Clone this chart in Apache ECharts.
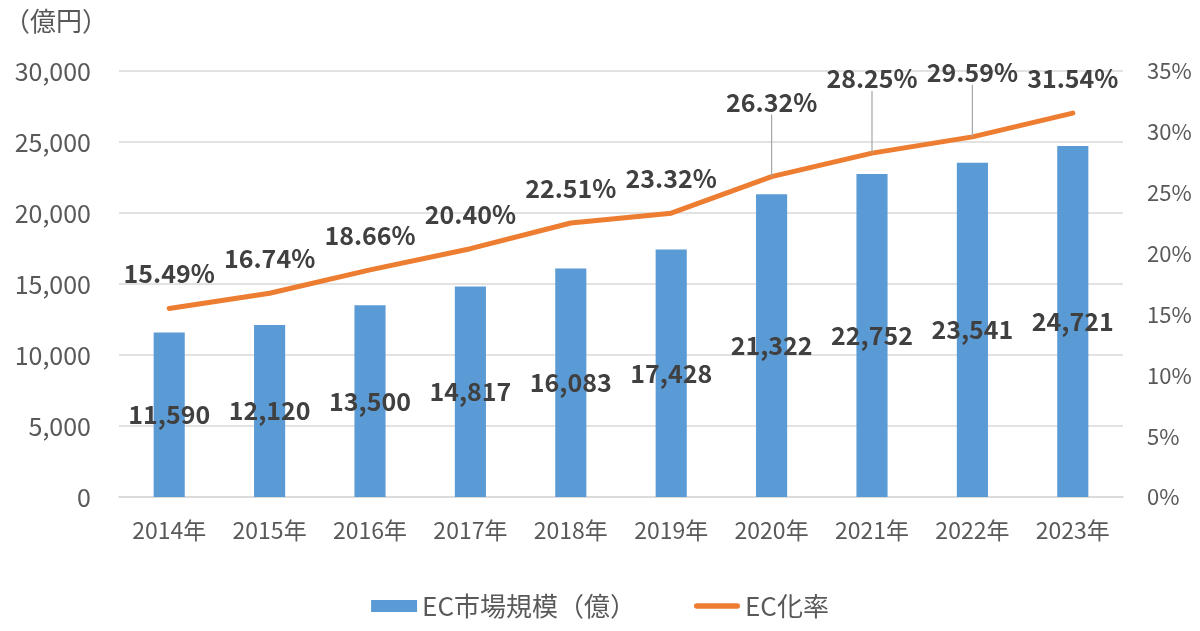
<!DOCTYPE html>
<html>
<head>
<meta charset="utf-8">
<script src="https://cdn.jsdelivr.net/npm/echarts@6/dist/echarts.min.js"></script>
<style>
  html, body { margin: 0; padding: 0; background: #fff; }
  #chart { width: 1200px; height: 631px; }
</style>
</head>
<body>
<div id="chart"></div>
<script>
const years = ['2014年', '2015年', '2016年', '2017年', '2018年', '2019年', '2020年', '2021年', '2022年', '2023年'];
const marketSize = [11590, 12120, 13500, 14817, 16083, 17428, 21322, 22752, 23541, 24721];
const ecRate = [15.49, 16.74, 18.66, 20.40, 22.51, 23.32, 26.32, 28.25, 29.59, 31.54];

const font = '"Noto Sans CJK JP", "Noto Sans", sans-serif';
const textColor = '#595959';
const labelColor = '#404040';

// labels that sit higher with a leader line
const raised = { 6: 40, 7: 40, 8: 30 };

const chart = echarts.init(document.getElementById('chart'));

const rateData = ecRate.map((v, i) => ({
  value: v,
  labelLine: { show: !!raised[i] }
}));

chart.setOption({
  backgroundColor: '#fff',
  textStyle: { fontFamily: font },
  grid: {
    left: 119,
    right: 77,
    top: 71,
    bottom: 134
  },
  graphic: [{
    type: 'text',
    left: 4,
    top: 8,
    style: {
      text: '（億円）',
      fontFamily: font,
      fontSize: 26,
      fill: textColor
    }
  }],
  legend: {
    bottom: 7,
    left: 'center',
    itemGap: 58,
    itemWidth: 46,
    itemHeight: 12,
    textStyle: { fontFamily: font, fontSize: 26, color: textColor },
    data: [
      { name: 'EC市場規模（億）', icon: 'rect' },
      { name: 'EC化率', icon: 'path://M3,0 L47,0 A3,3 0 0 1 47,6 L3,6 A3,3 0 0 1 3,0 Z' }
    ]
  },
  xAxis: {
    type: 'category',
    data: years,
    axisTick: { show: false },
    axisLine: { lineStyle: { color: '#d9d9d9', width: 1.5 } },
    axisLabel: {
      color: textColor,
      fontSize: 23,
      fontFamily: font,
      margin: 22,
      interval: 0
    }
  },
  yAxis: [{
    type: 'value',
    min: 0,
    max: 30000,
    interval: 5000,
    axisLine: { show: false },
    axisTick: { show: false },
    splitLine: { lineStyle: { color: '#d9d9d9', width: 1.5 } },
    axisLabel: {
      color: textColor,
      fontSize: 25,
      fontFamily: font,
      margin: 28,
      formatter: v => v.toLocaleString('en-US')
    }
  }, {
    type: 'value',
    min: 0,
    max: 35,
    interval: 5,
    axisLine: { show: false },
    axisTick: { show: false },
    splitLine: { show: false },
    axisLabel: {
      color: textColor,
      fontSize: 22,
      fontFamily: font,
      margin: 24,
      formatter: '{value}%'
    }
  }],
  series: [{
    name: 'EC市場規模（億）',
    type: 'bar',
    data: marketSize,
    barWidth: '31%',
    itemStyle: { color: '#5B9BD5' },
    label: {
      show: true,
      position: 'inside',
      color: labelColor,
      fontSize: 25,
      fontWeight: 'bold',
      fontFamily: font,
      formatter: p => p.value.toLocaleString('en-US')
    },
    z: 2
  }, {
    name: 'EC化率',
    type: 'line',
    yAxisIndex: 1,
    data: rateData,
    symbol: 'circle',
    symbolSize: 0.1,
    showSymbol: true,
    lineStyle: { color: '#ED7D31', width: 5, cap: 'round' },
    itemStyle: { color: '#ED7D31' },
    label: {
      show: true,
      position: 'top',
      distance: 22,
      color: labelColor,
      fontSize: 25,
      fontWeight: 'bold',
      fontFamily: font,
      formatter: p => p.value.toFixed(2) + '%'
    },
    labelLine: {
      show: false,
      lineStyle: { color: '#a6a6a6', width: 1.2 }
    },
    labelLayout: p => raised[p.dataIndex] ? { dy: -raised[p.dataIndex] } : {},
    z: 3
  }]
});
</script>
</body>
</html>
